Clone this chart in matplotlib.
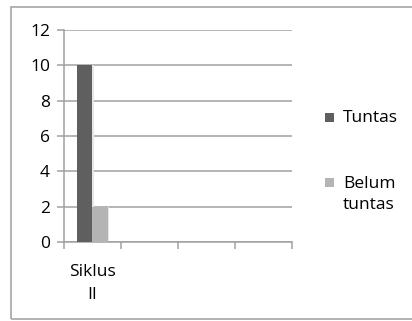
import matplotlib.pyplot as plt
from matplotlib.patches import Rectangle
import numpy as np

# Chart data
categories = ['Siklus\nII', '', '', '']
series_names = ['Tuntas', 'Belum\ntuntas']
tuntas = [10, 0, 0, 0]
belum_tuntas = [2, 0, 0, 0]
y_ticks = [0, 2, 4, 6, 8, 10, 12]

plt.rcParams['font.family'] = ['Open Sans', 'DejaVu Sans']

W, H = 412, 321
fig = plt.figure(figsize=(W / 100, H / 100), dpi=100)
fig.patch.set_facecolor('white')


def px_rect(x0, y0, x1, y1, **kw):
    # rectangle given in pixel coordinates from the top-left corner
    return Rectangle((x0 / W, 1 - y1 / H), (x1 - x0) / W, (y1 - y0) / H,
                     transform=fig.transFigure, **kw)


# outer chart frame
fig.add_artist(px_rect(11, 7, 420, 319, fill=False,
                       edgecolor='#a6a6a6', linewidth=1.2))

ax = fig.add_axes([64 / W, 1 - 242 / H, (292 - 64) / W, (242 - 30) / H])

x = np.arange(len(categories))
bw = 0.27
col_dark = '#5f5f5f'
col_light = '#b4b4b4'

# faint shadow behind bars
for vals, off in ((tuntas, -bw / 2), (belum_tuntas, bw / 2)):
    ax.bar(x + off + 0.02, vals, bw, color='#e6e6e6', zorder=2)
ax.bar(x - bw / 2, tuntas, bw, color=col_dark, zorder=3, label=series_names[0])
ax.bar(x + bw / 2, belum_tuntas, bw, color=col_light, zorder=3, label=series_names[1])

ax.set_xlim(-0.5, len(categories) - 0.5)
ax.set_ylim(0, 12)
ax.set_yticks(y_ticks)
ax.yaxis.grid(True, color='#a0a0a0', linewidth=1.1)
ax.set_axisbelow(True)

ax.set_xticks(np.arange(len(categories) + 1) - 0.5, minor=False)
ax.set_xticklabels([])
ax.set_xticks(x, minor=True)
ax.set_xticklabels(categories, minor=True, fontsize=12.5, linespacing=1.55)
ax.tick_params(axis='x', which='minor', length=0, pad=16)
ax.tick_params(axis='x', which='major', length=5, color='#a0a0a0', width=1.1)
ax.tick_params(axis='y', length=5, color='#a0a0a0', width=1.1, labelsize=12.5, pad=5)

for side in ('top', 'right'):
    ax.spines[side].set_visible(False)
for side in ('left', 'bottom'):
    ax.spines[side].set_color('#a0a0a0')
    ax.spines[side].set_linewidth(1.1)

# legend on the right
fig.add_artist(px_rect(325, 113, 334, 122, color=col_dark, linewidth=0))
fig.text(343 / W, 1 - 118 / H, series_names[0], fontsize=12.5, va='center')
fig.add_artist(px_rect(325, 178, 334, 187, color=col_light, linewidth=0))
fig.text(343 / W, 1 - 176 / H, series_names[1], fontsize=12.5, va='top',
         linespacing=1.45)

fig.savefig('out.png', dpi=100)
